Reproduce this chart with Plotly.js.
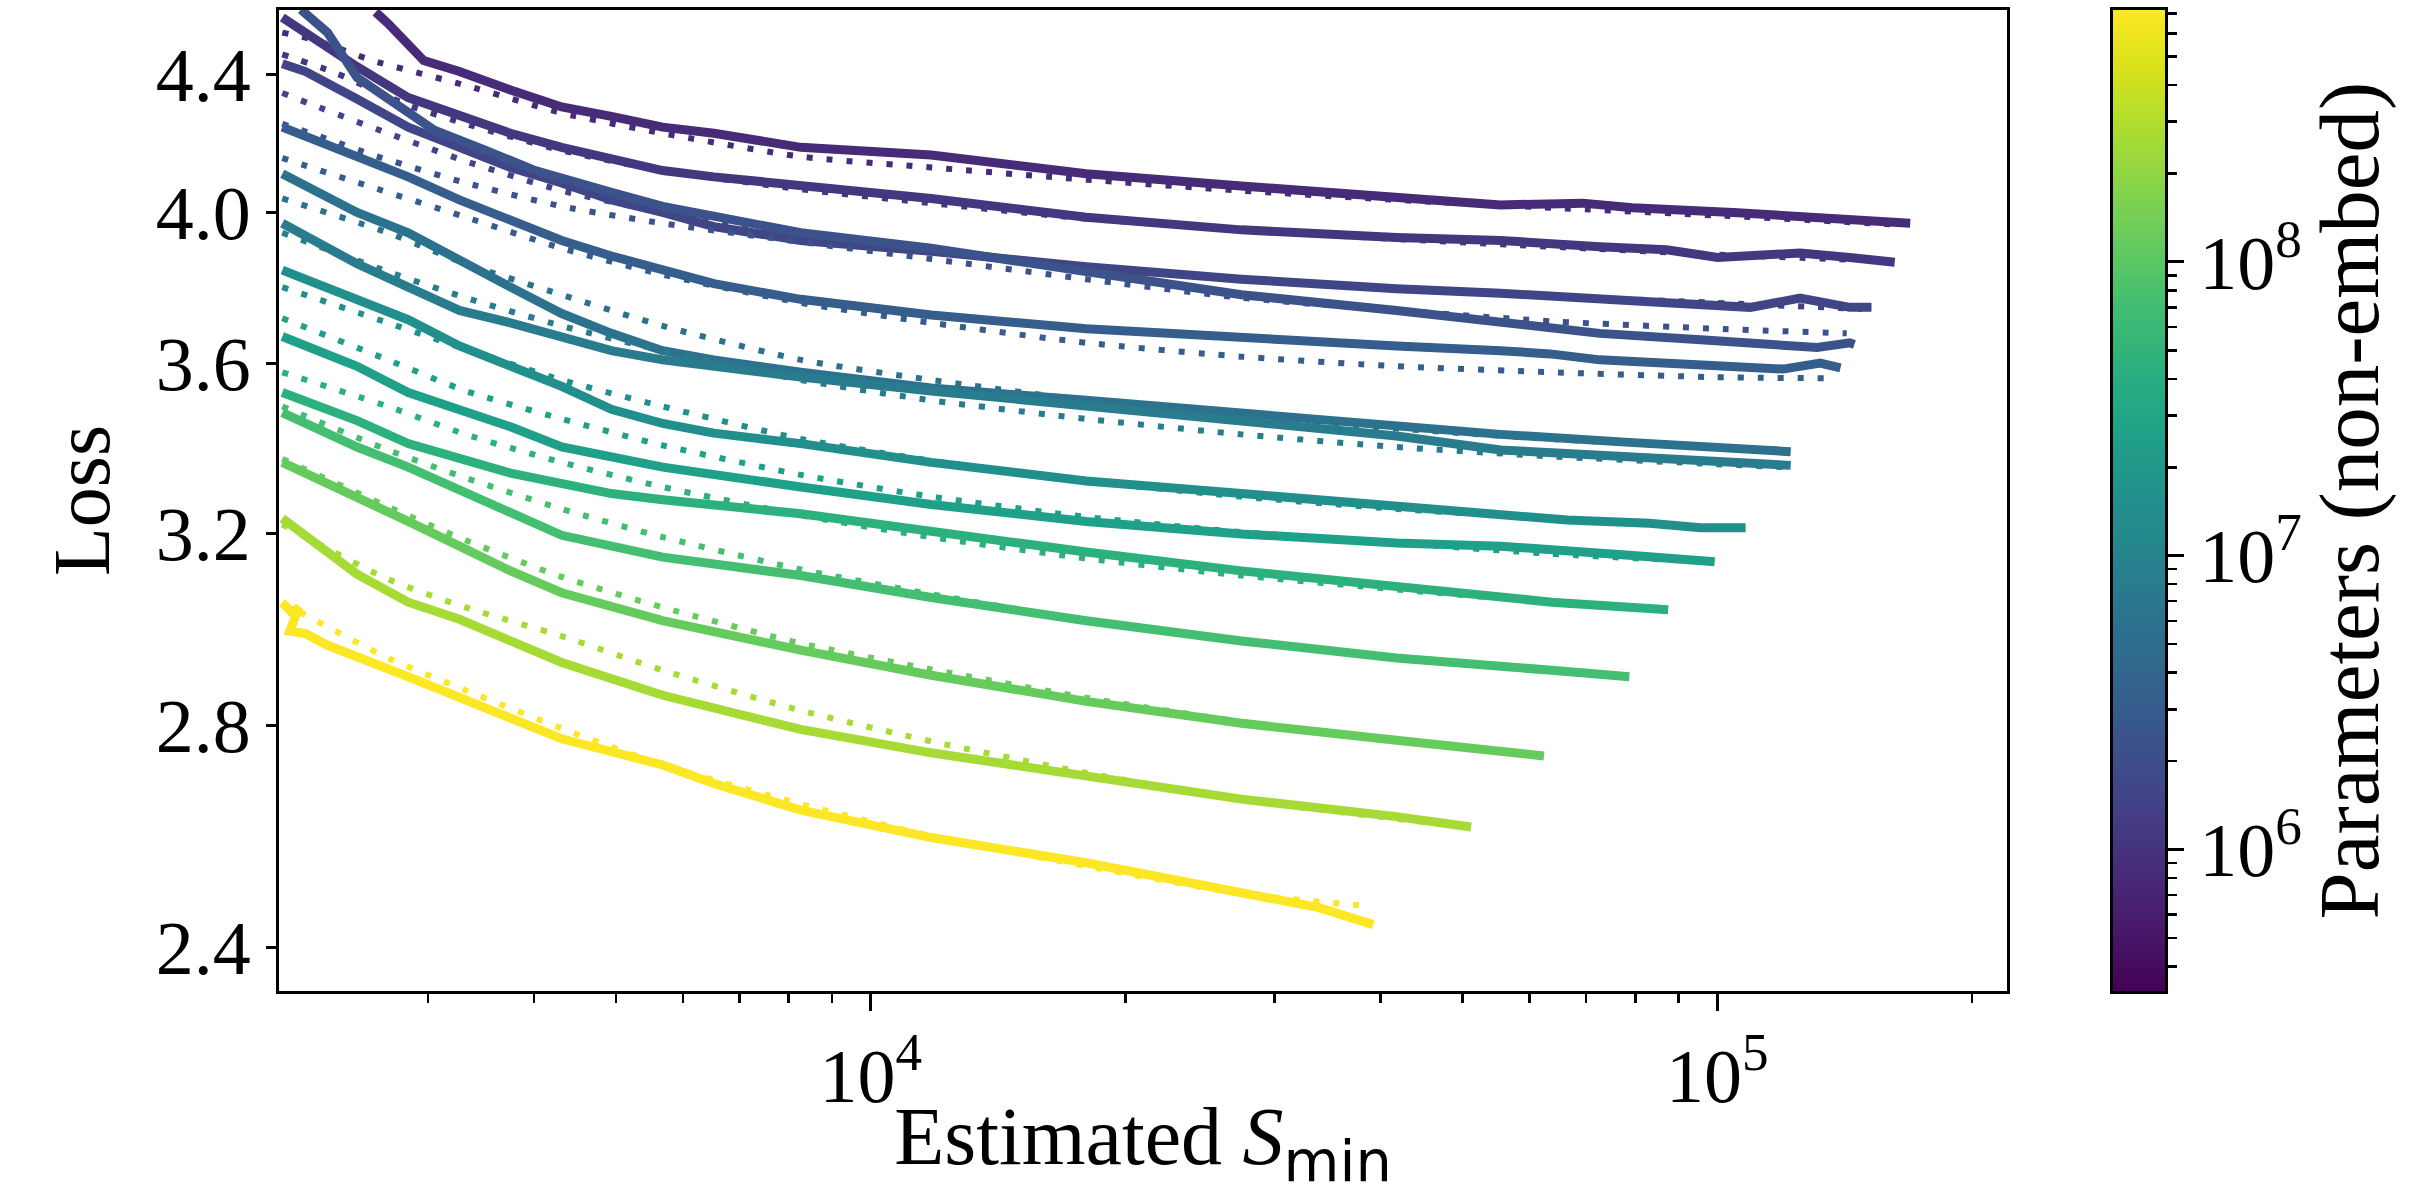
<!DOCTYPE html>
<html><head><meta charset="utf-8">
<script src="https://cdn.plot.ly/plotly-3.0.1.min.js"></script>
<style>html,body{margin:0;padding:0;background:#fff}#chart{width:2433px;height:1195px}</style>
</head><body><div id="chart"></div>
<script>
// model sizes (non-embedding parameters), one per learning curve
const params = [8.0e5, 1.1e6, 1.6e6, 2.3e6, 3.2e6, 6.0e6, 8.0e6, 1.54e7, 2.5e7, 4.5e7, 7.2e7, 1.2e8, 2.6e8, 7.0e8];
// colour-bar limits
const cbMin = 3.3e5, cbMax = 7.2e8;
const cbTickVals = [1e6, 1e7, 1e8];
const cbTickText = ['10<sup>6</sup>', '10<sup>7</sup>', '10<sup>8</sup>'];
const xTickVals = [1e4, 1e5];
const xTickText = ['10<sup>4</sup>', '10<sup>5</sup>'];
const xMinorVals = [3000,4000,5000,6000,7000,8000,9000,20000,30000,40000,50000,60000,70000,80000,90000,200000];
const yTickVals = [2.4, 2.8, 3.2, 3.6, 4.0, 4.4];
const yTickText = ['2.4', '2.8', '3.2', '3.6', '4.0', '4.4'];

// measured learning curves: estimated S_min and loss
const runS = [
 [2601,2690,2965,3267,3754,4315,4939,5678,6527,8267,11785,17970,27405,41795,55447,69362,79386,104400,125250,150200,169000],
 [2018,2473,2842,3267,3754,4315,4939,5678,6527,8267,11785,17970,27405,41795,55447,72630,87120,100100,125250,143400,162000],
 [2018,2150,2473,2842,3267,3754,4315,4939,5678,6527,8267,11785,17970,27405,41795,55447,87120,109400,125250,143400,152100],
 [2123,2282,2473,2690,3052,3510,4016,4939,5678,8267,11785,17970,27405,41795,55447,72630,95570,114100,131200,143400,145200],
 [2018,2473,2842,3267,3754,4315,4939,5678,6527,8267,11785,17970,27405,41795,55447,63470,72630,87120,104400,119600,132300,139800],
 [2018,2473,2842,3267,3754,4315,4939,5678,6527,8267,11785,17970,27405,41795,55447,78720,97200,122100],
 [2018,2473,2842,3267,3754,4315,4939,5678,8267,11785,17970,27405,41795,55447,78720,97200,122100],
 [2018,2473,2842,3267,3754,4315,4939,5678,6527,8267,11785,17970,27405,41795,55447,66490,83170,95570,108000],
 [2018,2473,2842,3267,3754,4315,5678,8267,11785,17970,27405,41795,55447,78720,99290],
 [2018,2473,2842,3754,4939,5678,8267,11785,17970,27405,41795,63740,87490],
 [2018,2473,2842,3267,3754,4315,5678,8267,11785,17970,27405,41795,63740,78720],
 [2018,2473,2842,3267,3754,4315,5678,8267,11785,17970,27405,41795,62410],
 [2018,2473,2842,3267,3754,4315,5678,8267,11785,17970,27405,41795,51180],
 [2018,2070,2110,2060,2150,2282,2842,3754,4315,5678,6527,8267,11785,17970,27405,33850,39230]
];
const runL = [
 [4.596,4.560,4.444,4.410,4.354,4.303,4.275,4.243,4.225,4.184,4.162,4.108,4.073,4.042,4.020,4.025,4.012,3.999,3.986,3.973,3.969],
 [4.579,4.425,4.331,4.275,4.225,4.184,4.148,4.117,4.099,4.077,4.038,3.986,3.951,3.930,3.922,3.905,3.897,3.876,3.888,3.876,3.863],
 [4.434,4.410,4.327,4.243,4.184,4.126,4.082,4.034,3.999,3.960,3.922,3.893,3.851,3.818,3.793,3.781,3.756,3.744,3.768,3.744,3.744],
 [4.604,4.531,4.392,4.327,4.234,4.175,4.117,4.055,4.016,3.943,3.901,3.838,3.777,3.736,3.704,3.677,3.661,3.649,3.641,3.653,3.649],
 [4.243,4.157,4.099,4.034,3.977,3.922,3.880,3.842,3.806,3.765,3.724,3.689,3.665,3.645,3.633,3.625,3.610,3.602,3.594,3.587,3.602,3.590],
 [4.108,3.999,3.943,3.867,3.797,3.728,3.677,3.633,3.610,3.579,3.540,3.510,3.480,3.450,3.428,3.409,3.398,3.387],
 [3.969,3.859,3.797,3.736,3.704,3.669,3.633,3.610,3.567,3.533,3.495,3.458,3.424,3.391,3.373,3.366,3.355],
 [3.842,3.765,3.712,3.645,3.594,3.544,3.488,3.454,3.431,3.406,3.362,3.319,3.290,3.262,3.244,3.230,3.223,3.213,3.213],
 [3.669,3.594,3.529,3.488,3.446,3.398,3.351,3.305,3.265,3.227,3.199,3.179,3.172,3.152,3.138],
 [3.529,3.461,3.406,3.337,3.290,3.276,3.244,3.203,3.159,3.118,3.085,3.051,3.035],
 [3.480,3.398,3.351,3.298,3.248,3.196,3.148,3.108,3.061,3.012,2.970,2.935,2.910,2.897],
 [3.362,3.283,3.227,3.172,3.118,3.071,3.012,2.951,2.900,2.848,2.805,2.772,2.742],
 [3.234,3.111,3.051,3.015,2.970,2.926,2.860,2.793,2.748,2.704,2.661,2.629,2.610],
 [3.050,3.030,3.040,2.990,2.985,2.961,2.897,2.817,2.775,2.725,2.690,2.641,2.591,2.546,2.495,2.468,2.439]
];

// fitted curves (dotted)
const fitS = [
 [2018,2215,2579,3322,4315,5678,8267,11785,17970,27405,41795,63740,99290,164800],
 [2018,2331,2842,3322,4315,5678,8267,11785,17970,27405,41795,63740,99290,157900],
 [2018,2197,2690,3322,4315,5678,8267,11785,17970,27405,41795,63740,99290,148300],
 [2018,2321,2579,3322,4315,5678,8267,11785,17970,27405,41795,63740,99290,142200],
 [2018,2452,3322,4315,5678,8267,11785,17970,27405,41795,63740,99290,136200],
 [2018,2690,3322,4315,5678,8267,11785,17970,27405,41795,63740,99290,120050],
 [2018,2690,3322,4315,5678,8267,11785,17970,27405,41795,63740,99290,120050],
 [2018,2690,3322,4315,5678,8267,11785,17970,27405,41795,63740,105800],
 [2018,2690,3322,4315,5678,8267,11785,17970,27405,41795,63740,97200],
 [2018,2690,3322,4315,5678,8267,11785,17970,27405,41795,63740,85660],
 [2018,2690,3322,4315,5678,8267,11785,17970,27405,41795,63740,77100],
 [2018,2690,3322,4315,5678,8267,11785,17970,27405,41795,61100],
 [2018,2690,3322,4315,5678,8267,11785,17970,27405,41795,50540],
 [2018,2690,3322,4315,5678,8267,11785,17970,27405,38420]
];
const fitL = [
 [4.531,4.506,4.444,4.368,4.285,4.225,4.157,4.126,4.091,4.060,4.034,4.012,3.991,3.965],
 [4.463,4.406,4.308,4.253,4.175,4.117,4.064,4.025,3.982,3.951,3.926,3.905,3.884,3.867],
 [4.345,4.308,4.225,4.144,4.060,3.999,3.935,3.893,3.851,3.818,3.793,3.773,3.756,3.740],
 [4.253,4.202,4.162,4.082,4.016,3.969,3.918,3.872,3.818,3.769,3.736,3.708,3.689,3.677],
 [4.153,4.086,3.986,3.901,3.830,3.756,3.704,3.653,3.618,3.594,3.579,3.567,3.564],
 [4.038,3.943,3.859,3.777,3.696,3.610,3.560,3.510,3.473,3.442,3.417,3.398,3.391],
 [3.943,3.838,3.769,3.696,3.633,3.560,3.510,3.465,3.428,3.398,3.376,3.358,3.351],
 [3.797,3.704,3.637,3.560,3.495,3.417,3.366,3.319,3.283,3.255,3.234,3.210],
 [3.716,3.610,3.533,3.465,3.402,3.333,3.283,3.237,3.203,3.179,3.155,3.138],
 [3.579,3.495,3.428,3.362,3.305,3.241,3.192,3.145,3.108,3.078,3.051,3.035],
 [3.495,3.391,3.326,3.255,3.192,3.121,3.068,3.012,2.970,2.935,2.910,2.900],
 [3.370,3.260,3.185,3.105,3.040,2.965,2.912,2.855,2.808,2.773,2.745],
 [3.220,3.100,3.040,2.980,2.910,2.830,2.770,2.710,2.660,2.625,2.610],
 [3.050,2.935,2.870,2.795,2.725,2.652,2.594,2.540,2.492,2.471]
];

// viridis colour map (same stops as Plotly's 'Viridis')
const viridis = [[0,'#440154'],[0.0627,'#48186a'],[0.1255,'#472d7b'],[0.1882,'#424086'],[0.2510,'#3b528b'],[0.3137,'#33638d'],[0.3765,'#2c728e'],[0.4392,'#26828e'],[0.5020,'#21918c'],[0.5647,'#1fa088'],[0.6275,'#28ae80'],[0.6902,'#3fbc73'],[0.7529,'#5ec962'],[0.8157,'#84d44b'],[0.8784,'#addc30'],[0.9412,'#d8e219'],[1,'#fde725']];
function hex2rgb(h){return [parseInt(h.substr(1,2),16),parseInt(h.substr(3,2),16),parseInt(h.substr(5,2),16)];}
function colorFor(n){
  const lo = Math.log10(cbMin), hi = Math.log10(cbMax);
  let t = (Math.log10(n) - lo) / (hi - lo);
  t = Math.max(0, Math.min(1, t));
  for (let i = 1; i < viridis.length; i++) {
    if (t <= viridis[i][0]) {
      const a = viridis[i-1], b = viridis[i];
      const f = (t - a[0]) / (b[0] - a[0]);
      const ca = hex2rgb(a[1]), cb = hex2rgb(b[1]);
      const c = ca.map((v, k) => Math.round(v + f * (cb[k] - v)));
      return 'rgb(' + c.join(',') + ')';
    }
  }
  return viridis[viridis.length-1][1];
}

const traces = [];
for (let i = 0; i < params.length; i++) {
  const col = colorFor(params[i]);
  traces.push({type:'scatter', mode:'lines', x: fitS[i], y: fitL[i], xaxis:'x', yaxis:'y',
    line:{color: col, width: 6, dash:'6px,14px', shape:'spline', smoothing:0.6}, hoverinfo:'skip'});
  traces.push({type:'scatter', mode:'lines', x: runS[i], y: runL[i], xaxis:'x', yaxis:'y',
    line:{color: col, width: 9, shape:'linear'}, hoverinfo:'skip'});
}

// colour bar drawn as a one-column heatmap on its own axes
const cbLo = Math.log10(cbMin), cbHi = Math.log10(cbMax);
const nRows = 256, cbY = [], cbZ = [];
for (let k = 0; k < nRows; k++) {
  const v = cbLo + (k + 0.5) * (cbHi - cbLo) / nRows;
  cbY.push(v); cbZ.push([v]);
}
traces.push({type:'heatmap', x:[0.5], y: cbY, z: cbZ, xaxis:'x2', yaxis:'y2',
  colorscale:'Viridis', zmin: cbLo, zmax: cbHi, showscale:false, hoverinfo:'skip'});

const cbMinor = [];
for (let e = 5; e <= 8; e++) for (let m = 2; m <= 9; m++) {
  const v = m * Math.pow(10, e);
  if (v > cbMin && v < cbMax) cbMinor.push(Math.log10(v));
}

const FONT = 'Liberation Serif, Times New Roman, serif';
const plotW = 2433 - 279 - 268;
const layout = {
  width: 2433, height: 1195,
  margin: {l: 279, r: 268, t: 10, b: 204, pad: 0},
  paper_bgcolor: '#ffffff', plot_bgcolor: '#ffffff',
  showlegend: false,
  font: {family: FONT, size: 76, color: '#000'},
  xaxis: {
    type: 'log', domain: [0, 1728 / plotW], anchor: 'y',
    range: [Math.log10(2000), 5.3422],
    tickvals: xTickVals, ticktext: xTickText,
    ticks: 'outside', ticklen: 17, tickwidth: 3, tickcolor: '#000',
    minor: {tickvals: xMinorVals, ticks: 'outside', ticklen: 9, tickwidth: 2.5, tickcolor: '#000', showgrid: false},
    showline: true, linecolor: '#000', linewidth: 3, mirror: true,
    showgrid: false, zeroline: false,
    tickfont: {family: FONT, size: 76},
    title: {text: "Estimated <i>S</i><sub><span style=\"font-family:'DejaVu Sans'\">min</span></sub>", font: {family: FONT, size: 82}, standoff: 38}
  },
  yaxis: {
    type: 'log', domain: [0, 1], anchor: 'x',
    range: [0.3672, 0.6630],
    tickvals: yTickVals, ticktext: yTickText,
    ticks: 'outside', ticklen: 10, tickwidth: 3, tickcolor: '#000',
    showline: true, linecolor: '#000', linewidth: 3, mirror: true,
    showgrid: false, zeroline: false,
    tickfont: {family: FONT, size: 76},
    title: {text: 'Loss', font: {family: FONT, size: 80}, standoff: 20}
  },
  xaxis2: {
    domain: [(2113 - 279) / plotW, 1], anchor: 'y2', range: [0, 1],
    showticklabels: false, ticks: '', showgrid: false, zeroline: false,
    showline: true, linecolor: '#000', linewidth: 3, mirror: true, fixedrange: true
  },
  yaxis2: {
    domain: [0, 1], anchor: 'x2', side: 'right', range: [cbLo, cbHi],
    tickvals: cbTickVals.map(v => Math.log10(v)), ticktext: cbTickText,
    ticks: 'outside', ticklen: 16, tickwidth: 3, tickcolor: '#000',
    minor: {tickvals: cbMinor, ticks: 'outside', ticklen: 9, tickwidth: 2.5, tickcolor: '#000', showgrid: false},
    showline: true, linecolor: '#000', linewidth: 3, mirror: true,
    showgrid: false, zeroline: false,
    tickfont: {family: FONT, size: 76},
    title: {text: 'Parameters (non-embed)', font: {family: FONT, size: 85}, standoff: 12}
  }
};

Plotly.newPlot('chart', traces, layout, {displayModeBar: false, staticPlot: true});
</script>
</body></html>
